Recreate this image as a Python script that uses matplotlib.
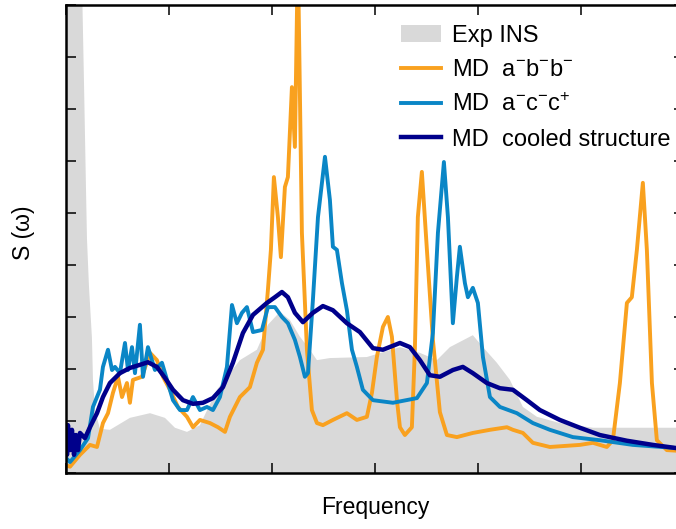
import numpy as np
import matplotlib
matplotlib.use("Agg")
import matplotlib.pyplot as plt

plt.rcParams['font.family'] = ['Liberation Sans', 'DejaVu Sans']
plt.rcParams['mathtext.fontset'] = 'custom'
plt.rcParams['mathtext.rm'] = 'Liberation Sans'
plt.rcParams['mathtext.it'] = 'Liberation Sans:italic'
plt.rcParams['mathtext.bf'] = 'Liberation Sans:bold'

# Exp INS (gray fill)
exp_x = [0, 10, 13.6, 15.5, 17.5, 19.4, 20.4, 22.3, 25.2, 26.2, 28.2, 33, 42.7, 62.1, 81.6, 96.1, 105.8,
         117.5, 130.1, 146.6, 168.9, 185.4, 196.1, 207.8, 217.5, 227.2, 236.9, 243.7, 256.3, 292.2,
         324.3, 343.7, 360.2, 372.8, 395.1, 404.9, 418.4, 431.1, 443.7, 457.3, 479.6, 511.7, 550.5, 600]
exp_y = [30, 30, 12, 9.5, 7.5, 5.5, 4.5, 3.6, 2.6, 1.8, 1.2, 0.85, 0.83, 1.06, 1.15, 1.06, 0.87,
         0.79, 0.92, 1.6, 2.17, 2.37, 2.85, 3.1, 2.94, 2.62, 2.37, 2.17, 2.21, 2.23,
         2.42, 2.31, 2.17, 2.42, 2.65, 2.42, 2.12, 1.79, 1.27, 1.08, 0.96, 0.87, 0.87, 0.87]

# MD a-b-b-
abb_x = [0, 3.9, 13.6, 23.3, 30.1, 35.9, 40.8, 45.6, 50.5, 54.4, 59.2, 62.1, 65, 73.8, 81.6, 88.3, 94.2,
         101, 108.7, 117.5, 123.3, 130.1, 139.8, 147.6, 154.4, 159.2, 168.9, 178.6, 185.4, 191.3,
         196.1, 199, 201.9, 205.8, 208.7, 212.6, 215.5, 219.4, 222.3, 225.2, 229.1, 234, 238.8,
         243.7, 249.5, 259.2, 272.8, 282.5, 292.2, 297.1, 301.9, 307.8, 312.6, 316.5, 321.4, 324.3,
         329.1, 335.9, 338.8, 341.7, 345.6, 350.5, 356.3, 363.1, 369.9, 379.6, 395.1, 411.7, 428.2,
         434, 443.7, 453.4, 469.9, 499, 511.7, 525.2, 531.1, 537.9, 544.7, 549.5, 554.4, 560.2,
         564.1, 569, 573.8, 583.5, 600]
abb_y = [0.15, 0.12, 0.35, 0.54, 0.5, 0.96, 1.15, 1.54, 1.85, 1.46, 1.73, 1.35, 1.79, 1.85, 2.31, 2.17, 1.85,
         1.6, 1.27, 1.08, 0.88, 1.02, 0.96, 0.88, 0.79, 1.08, 1.46, 1.65, 2.12, 2.37,
         3.52, 4.29, 5.69, 4.92, 4.15, 5.5, 5.69, 7.42, 6.27, 10.0, 4.62, 2.37, 1.21,
         0.96, 0.92, 1.02, 1.15, 1.02, 1.08, 1.54, 2.23, 2.81, 3.0, 2.62, 1.4, 0.88,
         0.73, 0.88, 2.37, 4.92, 5.79, 4.29, 2.56, 1.17, 0.73, 0.69, 0.77, 0.83, 0.88,
         0.83, 0.77, 0.58, 0.5, 0.54, 0.58, 0.5, 0.63, 1.73, 3.27, 3.38, 4.29, 5.58,
         4.29, 1.73, 0.63, 0.44, 0.42]

# MD a-c-c+
acc_x = [0, 3.9, 13.6, 21.4, 26.2, 30.1, 33, 35.9, 40.8, 44.7, 47.6, 52.4, 57.3, 60.2, 64.1, 67, 71.8,
         74.8, 79.6, 86.4, 93.2, 98.1, 103.9, 110.7, 117.5, 123.3, 130.1, 136.9, 142.7, 149.5,
         156.3, 161.2, 166, 170.9, 175.7, 181.6, 190.3, 196.1, 202.9, 209.7, 215.5, 222.3, 227.2,
         232, 235, 239.8, 244.7, 251.5, 256.3, 259.2, 263.1, 268, 272.8, 277.7, 282.5, 288.3,
         298.1, 317.5, 340.8, 350.5, 356.3, 361.2, 367, 370.9, 375.7, 379.6, 382.5, 387.4, 390.3,
         395.1, 400, 404.9, 411.7, 421.4, 437.9, 453.4, 469.9, 492.2, 518.4, 550.5, 592.2, 600]
acc_y = [0.29, 0.21, 0.44, 0.67, 1.27, 1.46, 1.6, 2.04, 2.37, 1.98, 2.04, 1.92, 2.5, 1.98, 2.42, 1.92, 2.85,
         1.85, 2.42, 1.98, 2.12, 1.79, 1.4, 1.21, 1.21, 1.46, 1.21, 1.27, 1.21, 1.46,
         2.04, 3.23, 2.88, 3.08, 3.19, 2.71, 2.75, 3.19, 3.19, 3.0, 2.88, 2.56, 2.23,
         1.85, 1.92, 3.33, 4.92, 6.08, 5.25, 4.35, 4.29, 3.65, 3.13, 2.37, 2.04, 1.6,
         1.4, 1.35, 1.44, 1.73, 2.69, 4.62, 5.98, 4.92, 2.88, 3.77, 4.35, 3.65, 3.38,
         3.56, 3.27, 2.23, 1.46, 1.27, 1.15, 0.96, 0.83, 0.69, 0.63, 0.54, 0.48, 0.47]

# MD cooled structure
cool_x = [0, 1, 1.9, 3.9, 5.8, 7.8, 9.7, 11.7, 13.6, 18.4, 23.3, 30.1, 35.9, 42.7, 52.4, 62.1, 71.8, 79.6,
          88.3, 96.1, 103.9, 113.6, 123.3, 133, 142.7, 152.4, 162.1, 171.8, 181.6, 195.1, 202.9,
          209.7, 215.5, 222.3, 230.1, 239.8, 249.5, 259.2, 272.8, 285.4, 298.1, 307.8, 324.3, 334,
          343.7, 353.4, 363.1, 375.7, 385.4, 395.1, 408.7, 421.4, 434, 447.6, 460.2, 479.6, 499,
          518.4, 544.7, 569.9, 592.2, 600]
cool_y = [0.63, 0.35, 0.92, 0.44, 0.83, 0.35, 0.73, 0.44, 0.77, 0.67, 0.88, 1.15, 1.46, 1.73, 1.92, 2.02, 2.08, 2.13,
          2.04, 1.83, 1.6, 1.4, 1.33, 1.35, 1.44, 1.65, 2.12, 2.69, 3.04, 3.27, 3.38,
          3.48, 3.38, 3.08, 2.9, 3.08, 3.21, 3.13, 2.88, 2.71, 2.4, 2.37, 2.5, 2.42,
          2.17, 1.88, 1.85, 1.98, 2.04, 1.92, 1.73, 1.63, 1.6, 1.4, 1.21, 1.02, 0.87,
          0.73, 0.62, 0.54, 0.48, 0.46]

labels = ['Exp INS', r'MD  a$^{\mathrm{-}}$b$^{\mathrm{-}}$b$^{\mathrm{-}}$',
          r'MD  a$^{\mathrm{-}}$c$^{\mathrm{-}}$c$^{\mathrm{+}}$', 'MD  cooled structure']
colors = ['#d9d9d9', '#f9a11f', '#0a86c6', '#00008b']

fig = plt.figure(figsize=(6.76, 5.29), dpi=100)
ax = fig.add_axes([0.0976, 0.1059, 0.914, 0.8847])

ax.fill_between(exp_x, 0, exp_y, color=colors[0], lw=0, label=labels[0])
ax.plot(abb_x, abb_y, color=colors[1], lw=2.8, label=labels[1])
ax.plot(acc_x, acc_y, color=colors[2], lw=2.8, label=labels[2])
ax.plot(cool_x, cool_y, color=colors[3], lw=3.2, label=labels[3])

ax.set_xlim(0, 600)
ax.set_ylim(0, 9)
ax.set_xticks(np.arange(0, 601, 100))
ax.set_yticks(np.arange(0, 10, 1))
ax.tick_params(direction='in', length=7, width=1.1, top=True, right=True,
               labelbottom=False, labelleft=False)
for s in ax.spines.values():
    s.set_linewidth(1.8)

ax.set_xlabel('Frequency', fontsize=16.5)
ax.set_ylabel('S (\u03c9)', fontsize=16.5)
ax.xaxis.set_label_coords(0.5, -0.049)
ax.yaxis.set_label_coords(-0.05, 0.513)

ax.legend(loc='upper left', bbox_to_anchor=(401 / 676, 1 - 25 / 529), bbox_transform=fig.transFigure,
          frameon=False, fontsize=17, handlelength=1.7, handletextpad=0.45,
          labelspacing=0.52, borderpad=0, borderaxespad=0)

fig.savefig('out.png', dpi=100)
